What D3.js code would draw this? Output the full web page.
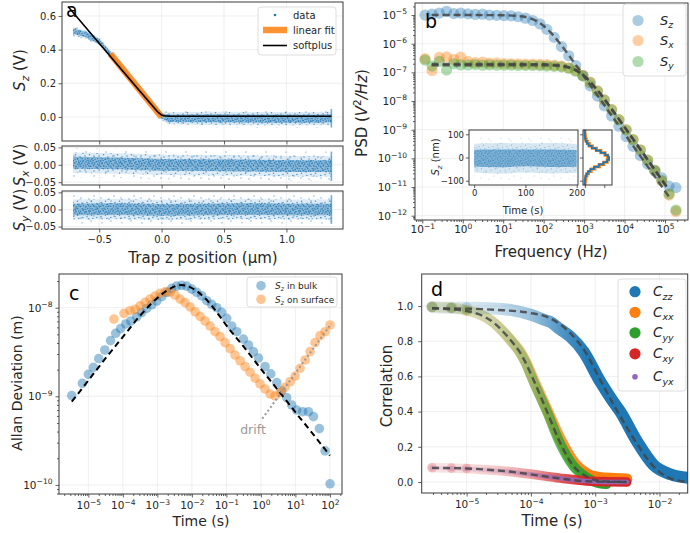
<!DOCTYPE html>
<html><head><meta charset="utf-8">
<script src="https://d3js.org/d3.v7.min.js"></script>
<style>html,body{margin:0;padding:0;background:#fff;overflow:hidden}</style>
</head><body>
<script>
// ================= DATA =================
// ---- Panel a ----
const aTicksX = [-0.5, 0.0, 0.5, 1.0];
const aTicksMainY = [0.0, 0.2, 0.4, 0.6];
const aTicksSubY = [-0.05, 0.0, 0.05];
const aCloudX  = [-0.71, -0.60, -0.50, -0.40, -0.30, -0.20, -0.10, 0.00, 0.05, 0.40, 0.80, 1.20, 1.36];
const aSzMid   = [0.510, 0.488, 0.447, 0.368, 0.272, 0.182, 0.090, 0.006, -0.008, -0.008, -0.010, -0.010, -0.008];
const aSzCore  = [0.016, 0.016, 0.015, 0.012, 0.010, 0.010, 0.010, 0.014, 0.022, 0.024, 0.024, 0.024, 0.024];
const aSzOuter = [0.032, 0.030, 0.028, 0.024, 0.020, 0.020, 0.020, 0.030, 0.050, 0.055, 0.055, 0.055, 0.055];
const aSubX    = [-0.71, -0.35, 0.00, 0.35, 0.70, 1.05, 1.36];
const aSxMid   = [0.006, 0.004, 0.000, -0.001, -0.002, -0.004, -0.004];
const aSyMid   = [0.000, 0.001, -0.001, 0.000, 0.001, 0.000, 0.000];
const aSubCore = [0.017, 0.017, 0.017, 0.017, 0.017, 0.017, 0.017];
const aSubOuter= [0.042, 0.042, 0.042, 0.042, 0.042, 0.042, 0.042];
const aFitX = [-0.41, 0.00];
const aFitY = [0.375, 0.000];
const aSoftX = [-0.75, -0.40, -0.10, -0.05, -0.02, 0.00, 0.02, 0.05, 0.10, 1.36];
const aSoftY = [0.656, 0.350, 0.089, 0.046, 0.022, 0.012, 0.007, 0.005, 0.004, 0.004];

// ---- Panel b ----
const bFreq = [0.117,0.174,0.263,0.398,0.603,0.891,1.35,2.04,3.09,4.57,6.92,10.5,15.8,23.4,35.5,53.7,81.3,120,182,275,417,617,933,1413,2138,3162,4786,7244,10965,16218,24547,37154,56234,83176,125893,186209];
const bSz = [1.00e-5,1.07e-5,1.17e-5,1.35e-5,1.12e-5,1.17e-5,1.10e-5,1.05e-5,1.07e-5,1.00e-5,9.77e-6,9.55e-6,9.33e-6,8.71e-6,7.76e-6,6.46e-6,4.90e-6,3.16e-6,1.66e-6,7.94e-7,3.80e-7,1.74e-7,7.59e-8,3.39e-8,1.48e-8,6.76e-9,3.02e-9,1.32e-9,5.75e-10,2.63e-10,1.26e-10,6.31e-11,3.55e-11,2.09e-11,1.07e-11,9.55e-12];
const bSx = [3.02e-7,1.17e-7,3.31e-7,3.47e-7,2.82e-7,3.39e-7,2.40e-7,2.19e-7,2.29e-7,2.09e-7,2.14e-7,2.04e-7,2.00e-7,2.00e-7,1.95e-7,1.95e-7,1.91e-7,1.86e-7,1.78e-7,1.66e-7,1.45e-7,1.15e-7,7.94e-8,4.57e-8,2.29e-8,1.12e-8,5.13e-9,2.29e-9,1.00e-9,4.57e-10,2.00e-10,8.71e-11,3.80e-11,1.66e-11,5.25e-12,1.41e-12];
const bSy = [2.69e-7,1.66e-7,2.40e-7,1.20e-7,2.00e-7,1.82e-7,1.82e-7,1.86e-7,1.78e-7,1.82e-7,1.78e-7,1.78e-7,1.78e-7,1.74e-7,1.74e-7,1.74e-7,1.70e-7,1.66e-7,1.62e-7,1.55e-7,1.38e-7,1.10e-7,7.59e-8,4.37e-8,2.19e-8,1.07e-8,4.90e-9,2.19e-9,9.77e-10,4.47e-10,1.95e-10,8.71e-11,3.80e-11,1.66e-11,5.75e-12,1.58e-12];
const bFitFreq = [0.17,1,10,30,60,100,150,250,400,630,1000,2000,5000,10000,30000,100000,125000];
const bFitZ = [1.0e-5,1.0e-5,9.86e-6,8.89e-6,6.67e-6,4.19e-6,2.43e-6,1.04e-6,4.33e-7,1.79e-7,7.19e-8,1.80e-8,2.89e-9,7.22e-10,8.03e-11,7.2e-12,4.6e-12];
const bFitX = [1.95e-7,1.95e-7,1.95e-7,1.95e-7,1.94e-7,1.92e-7,1.88e-7,1.78e-7,1.56e-7,1.20e-7,7.61e-8,2.69e-8,4.87e-9,1.24e-9,1.39e-10,1.25e-11,8.0e-12];
const bFitY = [1.78e-7,1.78e-7,1.78e-7,1.78e-7,1.77e-7,1.76e-7,1.73e-7,1.65e-7,1.47e-7,1.15e-7,7.4e-8,2.65e-8,4.8e-9,1.22e-9,1.37e-10,1.23e-11,7.9e-12];
const bTicksX = [0.1,1,10,100,1000,1e4,1e5];
const bTicksY = [1e-12,1e-11,1e-10,1e-9,1e-8,1e-7,1e-6,1e-5];
// inset
const inTime  = [0, 50, 100, 150, 200];
const inMid   = [-3, -4, -2, -3, -4];
const inCore  = [36, 38, 36, 38, 36];
const inOuter = [88, 94, 90, 94, 88];
const inTicksX = [0, 100, 200];
const inTicksY = [-100, 0, 100];
const histBins   = [-115,-105,-95,-85,-75,-65,-55,-45,-35,-25,-15,-5,5,15,25,35,45,55,65,75,85,95,105,115];
const histBlue   = [0,0,1,2,6,12,22,37,57,76,92,100,96,84,65,45,28,15,8,3,1,0,0,0];
const histOrange = [0,1,2,4,8,15,26,41,60,78,92,97,94,83,66,48,31,18,10,5,2,1,0,0];
const histTicks = [0, 80];

// ---- Panel c ----
const cTauBulk = [3.3e-6,6.7e-6,1.0e-5,1.4e-5,2.0e-5,3.0e-5,4.4e-5,6.2e-5,8.6e-5,1.21e-4,1.69e-4,2.52e-4,3.5e-4,4.9e-4,6.9e-4,9.6e-4,1.34e-3,1.87e-3,2.6e-3,3.63e-3,5.07e-3,7.08e-3,9.9e-3,1.38e-2,1.93e-2,2.69e-2,3.76e-2,5.25e-2,7.3e-2,0.102,0.143,0.2,0.311,0.435,0.607,0.85,1.32,1.93,2.88,4.02,5.6,7.8,10.9,16.3,23.8,33.3,49.6,72.4,101];
const cDevBulk = [1.02e-9,1.40e-9,1.77e-9,2.12e-9,2.66e-9,3.33e-9,4.25e-9,5.14e-9,5.8e-9,6.55e-9,7.08e-9,7.9e-9,8.8e-9,9.8e-9,1.08e-8,1.19e-8,1.33e-8,1.49e-8,1.65e-8,1.75e-8,1.79e-8,1.75e-8,1.62e-8,1.49e-8,1.36e-8,1.20e-8,1.09e-8,1.0e-8,8.85e-9,7.58e-9,6.2e-9,5.36e-9,4.43e-9,3.8e-9,3.19e-9,2.7e-9,2.16e-9,1.79e-9,1.43e-9,1.16e-9,9.66e-10,7.98e-10,7.0e-10,6.7e-10,6.7e-10,5.9e-10,4.32e-10,2.42e-10,1.03e-10];
const cTauSurf = [5.5e-5,1.08e-4,1.61e-4,2.25e-4,3.15e-4,4.4e-4,6.1e-4,8.55e-4,1.19e-3,1.67e-3,2.33e-3,3.25e-3,4.54e-3,6.34e-3,8.85e-3,1.24e-2,1.73e-2,2.41e-2,3.37e-2,4.69e-2,6.55e-2,9.14e-2,0.128,0.178,0.249,0.348,0.485,0.678,0.946,1.32,1.85,2.58,3.6,5.0,7.0,9.8,13.6,19.1,26.6,37.2,51.9,72.4,101];
const cDevSurf = [7.45e-9,8.63e-9,9.25e-9,9.57e-9,1.05e-8,1.15e-8,1.25e-8,1.35e-8,1.45e-8,1.51e-8,1.50e-8,1.39e-8,1.25e-8,1.14e-8,1.02e-8,9.0e-9,7.98e-9,7.08e-9,6.21e-9,5.36e-9,4.71e-9,4.03e-9,3.45e-9,2.92e-9,2.52e-9,2.16e-9,1.87e-9,1.60e-9,1.38e-9,1.21e-9,1.06e-9,1.01e-9,1.10e-9,1.26e-9,1.46e-9,1.69e-9,2.07e-9,2.57e-9,3.19e-9,4.03e-9,4.83e-9,5.36e-9,6.38e-9];
const cFitTau = [3.31e-6,1e-5,3.16e-5,1e-4,3.16e-4,1e-3,2e-3,3.16e-3,5.01e-3,7.94e-3,1.26e-2,2.51e-2,5.01e-2,0.1,0.316,1,3.16,10,31.6,100];
const cFitDev = [8.71e-10,1.51e-9,2.69e-9,4.68e-9,8.13e-9,1.29e-8,1.58e-8,1.74e-8,1.80e-8,1.74e-8,1.58e-8,1.26e-8,9.12e-9,6.31e-9,3.63e-9,2.04e-9,1.17e-9,6.61e-10,3.80e-10,2.14e-10];
const cDriftTau = [1.1, 110];
const cDriftDev = [5.6e-10, 6.6e-9];
const cTicksX = [1e-5,1e-4,1e-3,1e-2,1e-1,1,10,100];
const cTicksY = [1e-10,1e-9,1e-8];

// ---- Panel d ----
const dTauZZ = [2.9e-6,5.8e-6,1e-5,3.2e-5,5e-5,1e-4,1.66e-4,2e-4,2.8e-4,4.1e-4,6.6e-4,1.2e-3,1.8e-3,2.45e-3,4.5e-3,8.1e-3,1.48e-2,2.75e-2];
const dCzz   = [0.995,0.99,0.99,0.985,0.977,0.95,0.92,0.91,0.87,0.826,0.74,0.57,0.47,0.40,0.229,0.097,0.044,0.024];
const dTauXX = [2.9e-6,5.8e-6,1e-5,1.5e-5,2.75e-5,3.7e-5,5e-5,6.8e-5,8.1e-5,1.1e-4,1.78e-4,2.9e-4,4.8e-4,7.6e-4,1.2e-3,2e-3,3.1e-3];
const dCxx   = [0.995,0.99,0.975,0.958,0.90,0.854,0.80,0.74,0.69,0.58,0.41,0.24,0.105,0.045,0.025,0.02,0.017];
const dTauYY = [2.9e-6,5.8e-6,1e-5,1.5e-5,2.75e-5,3.7e-5,5e-5,6.8e-5,8.1e-5,1.1e-4,1.78e-4,2.8e-4,4.6e-4,7.4e-4,1.0e-3,1.5e-3];
const dCyy   = [0.995,0.99,0.975,0.958,0.90,0.854,0.80,0.735,0.685,0.57,0.40,0.225,0.09,0.025,0.0,-0.012];
const dTauXY = [2.9e-6,5.8e-6,1e-5,2.05e-5,5e-5,9.7e-5,2.84e-4,7.4e-4,1.5e-3,3.1e-3];
const dCxy   = [0.081,0.079,0.077,0.069,0.058,0.045,0.022,0.006,0.001,0.000];
const dCyx   = [0.080,0.078,0.076,0.068,0.057,0.044,0.021,0.005,0.000,0.000];
const dFitTauZZ = [2.9e-6,1e-5,3e-5,1e-4,2e-4,4e-4,7e-4,1.2e-3,2e-3,3e-3,5e-3,8e-3,1.3e-2,2e-2,2.75e-2];
const dFitZZ    = [0.987,0.985,0.978,0.96,0.93,0.85,0.74,0.58,0.43,0.32,0.19,0.09,0.03,0.007,0.002];
const dFitTauXX = [2.9e-6,1e-5,1.5e-5,2.75e-5,3.7e-5,5e-5,6.8e-5,1.1e-4,1.78e-4,2.8e-4,4.6e-4,7.4e-4,1.2e-3,3.1e-3];
const dFitXX    = [0.987,0.972,0.955,0.90,0.854,0.80,0.735,0.58,0.40,0.229,0.09,0.03,0.005,0.0];
const dFitTauXY = [2.9e-6,1e-5,2.05e-5,5e-5,9.7e-5,2.84e-4,7.4e-4,3.1e-3];
const dFitXY    = [0.08,0.077,0.07,0.058,0.044,0.02,0.004,0.0];
const dTicksX = [1e-5,1e-4,1e-3,1e-2];
const dTicksY = [0.0,0.2,0.4,0.6,0.8,1.0];

// ================= STYLE / HELPERS =================
const FONT = "'DejaVu Sans', sans-serif";
const TXT = "#262626", SPINE = "#3a3a3a", GRID = "#ebebeb";
const COL = {blue:"#1f77b4", orange:"#ff7f0e", green:"#2ca02c", red:"#d62728", purple:"#9467bd"};

const svg = d3.select("body").append("svg").attr("width",690).attr("height",533).attr("font-family",FONT);
svg.append("rect").attr("width",690).attr("height",533).attr("fill","#fff");
const defs = svg.append("defs");

function dotPattern(id, size, pts, r, op) {
  const p = defs.append("pattern").attr("id",id).attr("patternUnits","userSpaceOnUse").attr("width",size).attr("height",size);
  p.selectAll("circle").data(pts).join("circle").attr("cx",d=>d[0]).attr("cy",d=>d[1]).attr("r",r).attr("fill",COL.blue).attr("fill-opacity",op);
}
// dot textures (style only) used to render the dense scatter clouds
const texDense  = [[0.5,1.2],[3.2,0.4],[6.1,1.8],[8.7,0.9],[1.9,3.6],[4.8,3.1],[7.6,4.2],[9.4,3.0],[0.8,6.3],[3.5,5.7],[6.0,6.8],[8.9,6.1],[2.2,8.7],[5.1,9.2],[7.7,8.5]];
const texSparse = [[1,2],[5.5,0.8],[10,3],[12.8,7.5],[3,6.5],[7.5,5.2],[1.5,11],[6,12.2],[10.2,10.5],[13,13.2],[8.8,8.6],[4.2,9.1]];
const texFar    = [[2,3],[11,1],[17,8],[6,12],[14,16],[1,18],[9,19]];
dotPattern("dense", 10, texDense, 0.75, 0.85);
dotPattern("sparse", 14, texSparse, 0.75, 0.75);
dotPattern("far", 20, texFar, 0.7, 0.65);
dotPattern("denseI", 10, texDense, 0.6, 0.6);
dotPattern("sparseI", 14, texSparse, 0.6, 0.45);
dotPattern("farI", 20, texFar, 0.55, 0.4);

function clipRect(id,x0,x1,y0,y1){ defs.append("clipPath").attr("id",id).append("rect").attr("x",x0).attr("y",y0).attr("width",x1-x0).attr("height",y1-y0); }
function frame(g,x0,x1,y0,y1){ g.append("rect").attr("x",x0).attr("y",y0).attr("width",x1-x0).attr("height",y1-y0).attr("fill","none").attr("stroke",SPINE).attr("stroke-width",1); }
function styleAxis(a, fs){
  a.select(".domain").remove();
  a.attr("font-family",FONT).attr("font-size",fs);
  a.selectAll(".tick line").attr("stroke",SPINE).attr("stroke-width",0.8);
  a.selectAll(".tick text").attr("fill",TXT);
  return a;
}
function sciLabels(a, fs){
  a.selectAll(".tick text").each(function(d){
    const t = d3.select(this); const e = Math.round(Math.log10(d));
    t.text(null);
    t.append("tspan").text("10");
    t.append("tspan").attr("dy", -fs*0.42).attr("font-size", fs*0.72).text(e<0 ? "\u2212"+(-e) : ""+e);
  });
}
function minorLog(lo, hi){ const out=[]; for(let e=Math.floor(Math.log10(lo)); e<=Math.ceil(Math.log10(hi)); e++) for(let m=2;m<10;m++){ const v=m*Math.pow(10,e); if(v>lo && v<hi) out.push(v);} return out; }
function axisBottom(g, scale, y, ticks, fmt, fs, pad, size){
  return styleAxis(g.append("g").attr("transform",`translate(0,${y})`).call(d3.axisBottom(scale).tickValues(ticks).tickSize(size||3.5).tickPadding(pad).tickFormat(fmt)), fs);
}
function axisLeft(g, scale, x, ticks, fmt, fs, pad, size){
  return styleAxis(g.append("g").attr("transform",`translate(${x},0)`).call(d3.axisLeft(scale).tickValues(ticks).tickSize(size||3.5).tickPadding(pad).tickFormat(fmt)), fs);
}
function grid(g, xs, ys, xS, yS, x0,x1,y0,y1){
  g.append("g").selectAll("line").data(xs).join("line").attr("x1",d=>xS(d)).attr("x2",d=>xS(d)).attr("y1",y0).attr("y2",y1).attr("stroke",GRID).attr("stroke-width",0.8);
  g.append("g").selectAll("line").data(ys).join("line").attr("y1",d=>yS(d)).attr("y2",d=>yS(d)).attr("x1",x0).attr("x2",x1).attr("stroke",GRID).attr("stroke-width",0.8);
}
function rich(parent, x, y, parts, fs, opts={}){
  const t = parent.append("text").attr("x",x).attr("y",y).attr("font-size",fs).attr("fill",opts.fill||TXT).attr("text-anchor",opts.anchor||"start");
  if (opts.rotate) t.attr("transform",`rotate(-90,${x},${y})`);
  let shift = 0;
  parts.forEach(p=>{
    const s = (typeof p === "string") ? {t:p} : p;
    const target = s.sub ? fs*0.25 : (s.sup ? -fs*0.4 : 0);
    const ts = t.append("tspan").text(s.t);
    if (target-shift !== 0) ts.attr("dy", target-shift);
    shift = target;
    if (s.sub || s.sup) ts.attr("font-size", fs*0.7);
    if (s.i) ts.attr("font-style","italic");
  });
  return t;
}
function legendBox(g,x0,x1,y0,y1){ g.append("rect").attr("x",x0).attr("y",y0).attr("width",x1-x0).attr("height",y1-y0).attr("rx",3).attr("fill","#fff").attr("fill-opacity",0.85).attr("stroke","#d5d5d5").attr("stroke-width",0.8); }

// scatter cloud: band of half-widths, textured with dots
function cloud(gg, xs, mid, core, outer, xS, yS, tex, baseOp, curve){
  const idx = d3.range(xs.length);
  const band = (w)=> d3.area().curve(curve||d3.curveLinear).x(i=>xS(xs[i])).y0(i=>yS(mid[i]-w(i))).y1(i=>yS(mid[i]+w(i)))(idx);
  gg.append("path").attr("d",band(i=>outer[i])).attr("fill",`url(#far${tex})`);
  gg.append("path").attr("d",band(i=>(core[i]+outer[i])/2)).attr("fill",`url(#sparse${tex})`);
  gg.append("path").attr("d",band(i=>(core[i]+outer[i])/2)).attr("fill",COL.blue).attr("fill-opacity",baseOp*0.35);
  gg.append("path").attr("d",band(i=>core[i])).attr("fill",COL.blue).attr("fill-opacity",baseOp);
  gg.append("path").attr("d",band(i=>core[i])).attr("fill",`url(#dense${tex})`);
}

// ================= PANEL A =================
{
  const g = svg.append("g");
  const x = d3.scaleLinear().domain([-0.798,1.453]).range([62,343]);
  const yM = d3.scaleLinear().domain([-0.143,0.683]).range([141,2]);
  const yX = d3.scaleLinear().domain([-0.058,0.054]).range([185,146]);
  const yY = d3.scaleLinear().domain([-0.057,0.054]).range([229,191]);
  grid(g, aTicksX, aTicksMainY, x, yM, 62,343,2,141);
  grid(g, aTicksX, aTicksSubY, x, yX, 62,343,146,185);
  grid(g, aTicksX, aTicksSubY, x, yY, 62,343,191,229);
  clipRect("clipA1",62,343,2,141); clipRect("clipA2",62,343,146,185); clipRect("clipA3",62,343,191,229);

  function endBurst(gg, xs, mid, outer, yS){
    const n = xs.length-1;
    gg.append("line").attr("x1",x(xs[n])).attr("x2",x(xs[n])).attr("y1",yS(mid[n]-outer[n])).attr("y2",yS(mid[n]+outer[n])).attr("stroke",COL.blue).attr("stroke-opacity",0.6).attr("stroke-width",1.6);
  }
  const g1 = g.append("g").attr("clip-path","url(#clipA1)");
  cloud(g1, aCloudX, aSzMid, aSzCore, aSzOuter, x, yM, "", 0.42);
  endBurst(g1, aCloudX, aSzMid, aSzOuter, yM);
  const idxF = d3.range(aFitX.length);
  g1.append("path").attr("d", d3.line().x(i=>x(aFitX[i])).y(i=>yM(aFitY[i]))(idxF)).attr("stroke",COL.orange).attr("stroke-opacity",0.85).attr("stroke-width",6.5).attr("fill","none");
  const idxS = d3.range(aSoftX.length);
  g1.append("path").attr("d", d3.line().curve(d3.curveMonotoneX).x(i=>x(aSoftX[i])).y(i=>yM(aSoftY[i]))(idxS)).attr("stroke","#000").attr("stroke-width",1.6).attr("fill","none");
  const g2 = g.append("g").attr("clip-path","url(#clipA2)");
  cloud(g2, aSubX, aSxMid, aSubCore, aSubOuter, x, yX, "", 0.42);
  endBurst(g2, aSubX, aSxMid, aSubOuter, yX);
  const g3 = g.append("g").attr("clip-path","url(#clipA3)");
  cloud(g3, aSubX, aSyMid, aSubCore, aSubOuter, x, yY, "", 0.42);
  endBurst(g3, aSubX, aSyMid, aSubOuter, yY);

  frame(g,62,343,2,141); frame(g,62,343,146,185); frame(g,62,343,191,229);
  axisLeft(g, yM, 62, aTicksMainY, d3.format(".1f"), 10, 2.5);
  axisLeft(g, yX, 62, aTicksSubY, d3.format(".2f"), 10, 2.5);
  axisLeft(g, yY, 62, aTicksSubY, d3.format(".2f"), 10, 2.5);
  axisBottom(g, x, 141, aTicksX, "", 10, 3);
  axisBottom(g, x, 185, aTicksX, "", 10, 3);
  axisBottom(g, x, 229, aTicksX, d3.format(".1f"), 10, 3);

  rich(g, 203, 263, ["Trap z position (\u03bcm)"], 15, {anchor:"middle"});
  rich(g, 25, 70, [{t:"S",i:true},{t:"z",i:true,sub:true},{t:" (V)"}], 15, {anchor:"middle",rotate:true});
  rich(g, 25, 165, [{t:"S",i:true},{t:"x",i:true,sub:true},{t:" (V)"}], 15, {anchor:"middle",rotate:true});
  rich(g, 25, 210, [{t:"S",i:true},{t:"y",i:true,sub:true},{t:" (V)"}], 15, {anchor:"middle",rotate:true});
  g.append("text").attr("x",66).attr("y",17).attr("font-size",19).attr("fill","#000").text("a");

  legendBox(g,258,336,7,55);
  g.append("circle").attr("cx",275).attr("cy",15).attr("r",1.3).attr("fill",COL.blue);
  g.append("line").attr("x1",263).attr("x2",287).attr("y1",30).attr("y2",30).attr("stroke",COL.orange).attr("stroke-opacity",0.85).attr("stroke-width",6.5);
  g.append("line").attr("x1",263).attr("x2",287).attr("y1",45.5).attr("y2",45.5).attr("stroke","#000").attr("stroke-width",1.6);
  [["data",15],["linear fit",30],["softplus",45.5]].forEach(([t,yy])=> g.append("text").attr("x",293).attr("y",yy+3.5).attr("font-size",10).attr("fill",TXT).text(t));
}

// ================= PANEL B =================
{
  const g = svg.append("g");
  const X0=415, X1=688, Y0=3, Y1=220;
  const x = d3.scaleLog().domain([0.066, 3.7e5]).range([X0,X1]);
  const y = d3.scaleLog().domain([7.08e-13, 2.63e-5]).range([Y1,Y0]);
  grid(g, bTicksX, bTicksY, x, y, X0,X1,Y0,Y1);
  clipRect("clipB",X0,X1,Y0,Y1);
  const gc = g.append("g").attr("clip-path","url(#clipB)");
  const idx = d3.range(bFreq.length);
  [[bSz,COL.blue],[bSx,COL.orange],[bSy,COL.green]].forEach(([arr,c])=>{
    gc.append("g").selectAll("circle").data(idx).join("circle").attr("cx",i=>x(bFreq[i])).attr("cy",i=>y(arr[i])).attr("r",5.6).attr("fill",c).attr("fill-opacity",0.38);
  });
  const fi = d3.range(bFitFreq.length);
  [bFitZ,bFitX,bFitY].forEach(arr=>{
    gc.append("path").attr("d", d3.line().curve(d3.curveMonotoneX).x(i=>x(bFitFreq[i])).y(i=>y(arr[i]))(fi)).attr("fill","none").attr("stroke","#444").attr("stroke-opacity",0.85).attr("stroke-width",2.4).attr("stroke-dasharray","7,4");
  });
  frame(g,X0,X1,Y0,Y1);
  const ax = axisBottom(g, x, Y1, bTicksX, d=>d, 10.5, 2); sciLabels(ax, 10.5);
  axisBottom(g, x, Y1, minorLog(0.066,3.7e5), "", 10, 2, 2);
  const ay = axisLeft(g, y, X0, bTicksY, d=>d, 10.5, 4.5); sciLabels(ay, 10.5);
  axisLeft(g, y, X0, minorLog(7.08e-13,2.63e-5), "", 10, 2, 2);
  rich(g, 551, 257, ["Frequency (Hz)"], 15, {anchor:"middle"});
  rich(g, 367, 113, ["PSD (",{t:"V",i:true},{t:"2",sup:true},{t:"/Hz",i:true},")"], 15, {anchor:"middle",rotate:true});
  g.append("text").attr("x",425).attr("y",28).attr("font-size",19).attr("fill","#000").text("b");

  legendBox(g,623,686,4,76);
  [[COL.blue,"z",20.5],[COL.orange,"x",40.5],[COL.green,"y",61.5]].forEach(([c,s,yy])=>{
    g.append("circle").attr("cx",638).attr("cy",yy).attr("r",5.6).attr("fill",c).attr("fill-opacity",0.38);
    rich(g, 660, yy+4, [{t:"S",i:true},{t:s,i:true,sub:true}], 13);
  });

  // ---- inset ----
  const IX0=469, IX1=578, IY0=130, IY1=185;
  const ix = d3.scaleLinear().domain([-10,202.5]).range([IX0,IX1]);
  const iy = d3.scaleLinear().domain([-118.5,118.5]).range([IY1,IY0]);
  g.append("rect").attr("x",IX0).attr("y",IY0).attr("width",IX1-IX0).attr("height",IY1-IY0).attr("fill","#fff");
  clipRect("clipI",IX0,IX1,IY0,IY1);
  const gi = g.append("g").attr("clip-path","url(#clipI)");
  cloud(gi, inTime, inMid, inCore, inOuter, ix, iy, "I", 0.5, d3.curveMonotoneX);
  frame(g,IX0,IX1,IY0,IY1);
  axisBottom(g, ix, IY1, inTicksX, d3.format("d"), 8.5, 2, 3);
  axisLeft(g, iy, IX0, inTicksY, d3.format("d"), 8.5, 2, 3);
  rich(g, 523, 214, ["Time (s)"], 10, {anchor:"middle"});
  rich(g, 439, 157, [{t:"S",i:true},{t:"z",i:true,sub:true},{t:" (nm)"}], 10, {anchor:"middle",rotate:true});

  const HX0=583, HX1=612;
  const hx = d3.scaleLinear().domain([-8,112]).range([HX0,HX1]);
  g.append("rect").attr("x",HX0).attr("y",IY0).attr("width",HX1-HX0).attr("height",IY1-IY0).attr("fill","#fff");
  function stepPts(counts){ const pts=[]; histBins.forEach((b,i)=>{ pts.push([counts[i], b-5]); pts.push([counts[i], b+5]); }); return pts; }
  const hl = d3.line().x(d=>hx(d[0])).y(d=>iy(d[1]));
  g.append("path").attr("d", hl(stepPts(histOrange))).attr("fill","none").attr("stroke",COL.orange).attr("stroke-width",3);
  g.append("path").attr("d", hl(stepPts(histBlue))).attr("fill","none").attr("stroke",COL.blue).attr("stroke-width",1.8);
  frame(g,HX0,HX1,IY0,IY1);
  axisBottom(g, hx, IY1, histTicks, "", 8, 2, 3);
  axisLeft(g, iy, HX0, inTicksY, "", 8, 2, 3);
}

// ================= PANEL C =================
{
  const g = svg.append("g");
  const X0=59, X1=342, Y0=274, Y1=494;
  const x = d3.scaleLog().domain([1.41e-6, 224]).range([X0,X1]);
  const y = d3.scaleLog().domain([7.9e-11, 2.4e-8]).range([Y1,Y0]);
  grid(g, cTicksX, cTicksY, x, y, X0,X1,Y0,Y1);
  clipRect("clipC",X0,X1,Y0,Y1);
  const gc = g.append("g").attr("clip-path","url(#clipC)");
  gc.append("g").selectAll("circle").data(d3.range(cTauBulk.length)).join("circle").attr("cx",i=>x(cTauBulk[i])).attr("cy",i=>y(cDevBulk[i])).attr("r",4.8).attr("fill",COL.blue).attr("fill-opacity",0.45);
  gc.append("g").selectAll("circle").data(d3.range(cTauSurf.length)).join("circle").attr("cx",i=>x(cTauSurf[i])).attr("cy",i=>y(cDevSurf[i])).attr("r",4.8).attr("fill",COL.orange).attr("fill-opacity",0.45);
  gc.append("path").attr("d", d3.line().curve(d3.curveMonotoneX).x(i=>x(cFitTau[i])).y(i=>y(cFitDev[i]))(d3.range(cFitTau.length))).attr("fill","none").attr("stroke","#000").attr("stroke-width",2).attr("stroke-dasharray","6,4");
  gc.append("path").attr("d", d3.line().x(i=>x(cDriftTau[i])).y(i=>y(cDriftDev[i]))(d3.range(cDriftTau.length))).attr("fill","none").attr("stroke","#999").attr("stroke-width",2).attr("stroke-dasharray","2,2.5");
  frame(g,X0,X1,Y0,Y1);
  const ax = axisBottom(g, x, Y1, cTicksX, d=>d, 10.5, 4); sciLabels(ax, 10.5);
  axisBottom(g, x, Y1, minorLog(1.41e-6,224), "", 10, 2, 2);
  const ay = axisLeft(g, y, X0, cTicksY, d=>d, 10.5, 3); sciLabels(ay, 10.5);
  axisLeft(g, y, X0, minorLog(7.9e-11,2.4e-8), "", 10, 2, 2);
  rich(g, 201, 526, ["Time (s)"], 14, {anchor:"middle"});
  rich(g, 22, 383, ["Allan Deviation (m)"], 14, {anchor:"middle",rotate:true});
  g.append("text").attr("x",69).attr("y",300).attr("font-size",19).attr("fill","#000").text("c");
  g.append("text").attr("x",253).attr("y",434).attr("font-size",12.5).attr("fill","#999").attr("text-anchor","middle").text("drift");
  legendBox(g,247,337,277,307);
  [[COL.blue,"in bulk",285.7],[COL.orange,"on surface",299.3]].forEach(([c,t,yy])=>{
    g.append("circle").attr("cx",261).attr("cy",yy).attr("r",4.8).attr("fill",c).attr("fill-opacity",0.45);
    rich(g, 275, yy+3.3, [{t:"S",i:true},{t:"z",i:true,sub:true},{t:" "+t}], 9);
  });
}

// ================= PANEL D =================
{
  const g = svg.append("g");
  const X0=421.7, X1=687.7, Y0=274, Y1=493;
  const x = d3.scaleLog().domain([2.0e-6, 2.75e-2]).range([X0,X1]);
  const y = d3.scaleLinear().domain([-0.0625, 1.182]).range([Y1,Y0]);
  grid(g, dTicksX, dTicksY, x, y, X0,X1,Y0,Y1);
  clipRect("clipD",X0,X1,Y0,Y1);
  const gc = g.append("g").attr("clip-path","url(#clipD)");
  const opStops = [[2.9e-6,0.12],[1e-5,0.17],[3e-5,0.25],[1e-4,0.45],[3e-4,0.78],[8e-4,1]];
  function grad(id,color){
    const gr = defs.append("linearGradient").attr("id",id).attr("gradientUnits","userSpaceOnUse").attr("x1",X0).attr("x2",X1).attr("y1",0).attr("y2",0);
    opStops.forEach(([t,o])=> gr.append("stop").attr("offset",(x(t)-X0)/(X1-X0)).attr("stop-color",color).attr("stop-opacity",o));
  }
  const series = [
    [dTauZZ,dCzz,COL.blue,12,"gZZ",5.6],
    [dTauXX,dCxx,COL.orange,11,"gXX",5.3],
    [dTauYY,dCyy,COL.green,10,"gYY",5.0],
    [dTauXY,dCxy,COL.red,9.5,"gXY",4.8],
    [dTauXY,dCyx,COL.purple,4.5,"gYX",2.6]
  ];
  series.forEach(([ts,vs,c,w,id,r])=>{
    grad(id,c);
    const ii = d3.range(ts.length);
    gc.append("path").attr("d", d3.line().curve(d3.curveMonotoneX).x(i=>x(ts[i])).y(i=>y(vs[i]))(ii)).attr("fill","none").attr("stroke",`url(#${id})`).attr("stroke-width",w).attr("stroke-linecap","round").attr("stroke-linejoin","round");
    gc.append("g").selectAll("circle").data(ii.filter(i=>ts[i]<1.1e-5)).join("circle").attr("cx",i=>x(ts[i])).attr("cy",i=>y(vs[i])).attr("r",r).attr("fill",c).attr("fill-opacity",0.22);
  });
  [[dFitTauZZ,dFitZZ],[dFitTauXX,dFitXX],[dFitTauXY,dFitXY]].forEach(([ts,vs])=>{
    gc.append("path").attr("d", d3.line().curve(d3.curveMonotoneX).x(i=>x(ts[i])).y(i=>y(vs[i]))(d3.range(ts.length))).attr("fill","none").attr("stroke","#444").attr("stroke-opacity",0.85).attr("stroke-width",2.4).attr("stroke-dasharray","7,4");
  });
  frame(g,X0,X1,Y0,Y1);
  const ax = axisBottom(g, x, Y1, dTicksX, d=>d, 10.5, 4); sciLabels(ax, 10.5);
  axisBottom(g, x, Y1, minorLog(2e-6,2.75e-2), "", 10, 2, 2);
  axisLeft(g, y, X0, dTicksY, d3.format(".1f"), 10, 5);
  rich(g, 552, 526, ["Time (s)"], 15, {anchor:"middle"});
  rich(g, 391.5, 386, ["Correlation"], 15, {anchor:"middle",rotate:true});
  g.append("text").attr("x",431).attr("y",296).attr("font-size",19).attr("fill","#000").text("d");
  legendBox(g,618,686,279,391);
  [[COL.blue,"zz",291.7,5.6],[COL.orange,"xx",312.3,5.6],[COL.green,"yy",332.8,5.6],[COL.red,"xy",353.8,5.6],[COL.purple,"yx",376.7,2.8]].forEach(([c,s,yy,r])=>{
    g.append("circle").attr("cx",635).attr("cy",yy).attr("r",r).attr("fill",c);
    rich(g, 653, yy+4.5, [{t:"C",i:true},{t:s,i:true,sub:true}], 13.5);
  });
}
</script>
</body></html>
